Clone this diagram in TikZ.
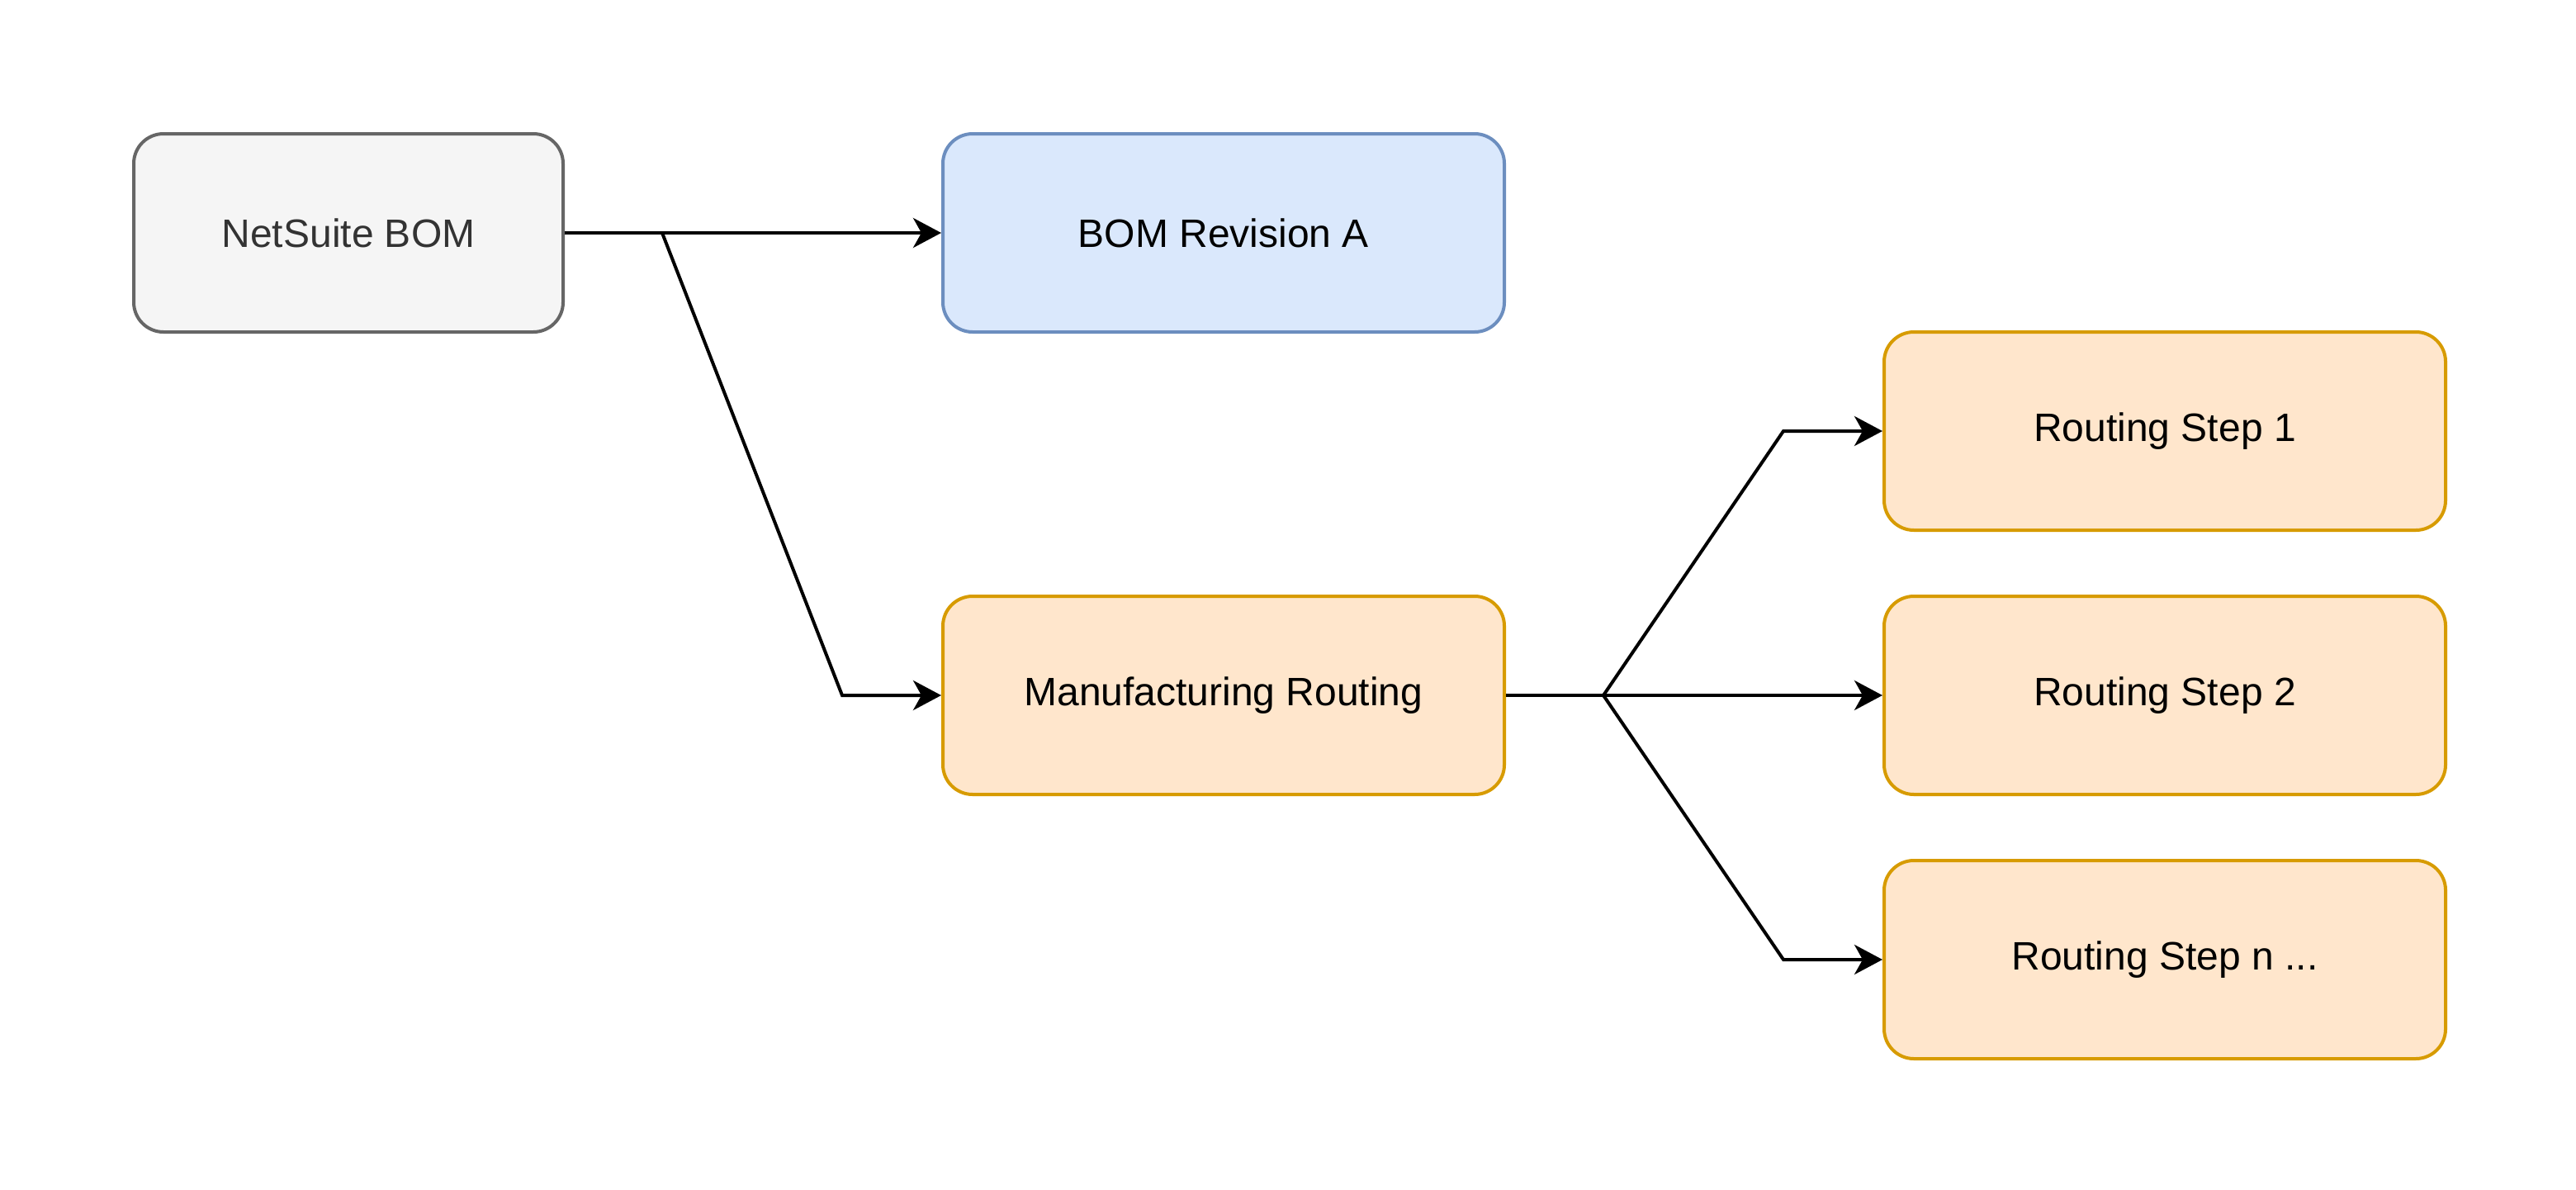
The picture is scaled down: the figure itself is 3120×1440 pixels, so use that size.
\documentclass[tikz,border=0pt]{standalone}
\usepackage{fontspec}
\setmainfont{Liberation Sans}
\usetikzlibrary{arrows.meta}
\definecolor{grayfill}{HTML}{F5F5F5}
\definecolor{graydraw}{HTML}{666666}
\definecolor{graytext}{HTML}{333333}
\definecolor{bluefill}{HTML}{DAE8FC}
\definecolor{bluedraw}{HTML}{6C8EBF}
\definecolor{orangefill}{HTML}{FFE6CC}
\definecolor{orangedraw}{HTML}{D79B00}
\tikzset{
  box/.style={rectangle, rounded corners=36pt, line width=4pt, minimum height=240pt, inner sep=0pt, font=\fontsize{48pt}{56pt}\selectfont},
  graybox/.style={box, fill=grayfill, draw=graydraw, text=graytext, minimum width=520pt},
  bluebox/.style={box, fill=bluefill, draw=bluedraw, minimum width=680pt},
  orangebox/.style={box, fill=orangefill, draw=orangedraw, minimum width=680pt},
  conn/.style={line width=4pt, -{Stealth[length=34pt, width=36pt, inset=10pt]}},
}
\begin{document}
\begin{tikzpicture}[x=1pt,y=-1pt]
\useasboundingbox (0,0) rectangle (3120,1440);
\node[graybox] (ns) at (422,282) {NetSuite BOM};
\node[bluebox] (bomA) at (1482,282) {BOM Revision A};
\node[orangebox] (mr) at (1482,842) {Manufacturing Routing};
\node[orangebox] (rs1) at (2622,522) {Routing Step 1};
\node[orangebox] (rs2) at (2622,842) {Routing Step 2};
\node[orangebox] (rsn) at (2622,1162) {Routing Step n ...};
\coordinate (j1) at (802,282);
\coordinate (j2) at (1942,842);
\draw[conn] (ns.east) -- (j1) -- (bomA.west);
\draw[conn] (j1) -- ([xshift=-120pt]mr.west) -- (mr.west);
\draw[conn] (mr.east) -- (j2) -- (rs2.west);
\draw[conn] (j2) -- ([xshift=-120pt]rs1.west) -- (rs1.west);
\draw[conn] (j2) -- ([xshift=-120pt]rsn.west) -- (rsn.west);
\end{tikzpicture}
\end{document}
